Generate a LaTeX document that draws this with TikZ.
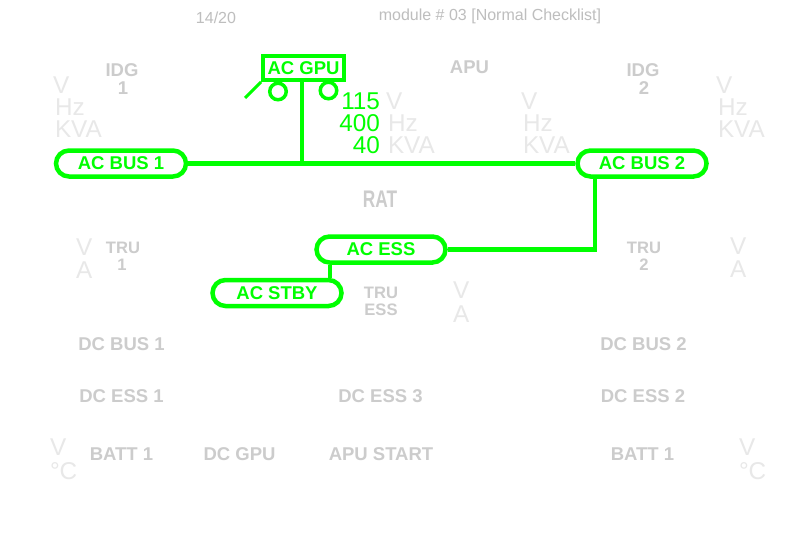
\documentclass[tikz,border=0pt]{standalone}
\usepackage{fontspec}
\setmainfont{Liberation Sans}
\definecolor{busgreen}{RGB}{0,255,0}
\definecolor{offgray}{RGB}{204,204,204}
\definecolor{unitgray}{RGB}{232,232,232}
\definecolor{headgray}{RGB}{190,190,190}
\tikzset{
  txt/.style={inner sep=0pt,outer sep=0pt,align=center},
  bigoff/.style={txt,text=offgray,font=\bfseries\fontsize{18.5}{18.5}\selectfont},
  smalloff/.style={txt,text=offgray,font=\bfseries\fontsize{16.6}{16.6}\selectfont},
  unit/.style={txt,text=unitgray,font=\fontsize{24.3}{24.3}\selectfont,anchor=west},
  head/.style={txt,text=headgray,font=\fontsize{16}{16}\selectfont},
  value/.style={txt,text=busgreen,font=\fontsize{24.3}{24.3}\selectfont,anchor=east},
  buspill/.style={draw=busgreen,line width=4.5pt,rounded rectangle,minimum height=26pt,inner sep=0pt,text=busgreen,font=\bfseries\fontsize{18.5}{18.5}\selectfont},
  wire/.style={draw=busgreen,line width=4.5pt},
  lamp/.style={draw=busgreen,line width=3.5pt,circle,minimum size=16.5pt,inner sep=0pt},
}
\usetikzlibrary{shapes.misc}
\begin{document}
\begin{tikzpicture}[x=1pt,y=-1pt]
\useasboundingbox (0,0) rectangle (799,538);
\fill[white] (0,0) rectangle (799,538);
% header
\node[head] (page) at (216,18) {14/20};
\node[head] (module) at (490,16) {module \# 03 [Normal Checklist]};
% buses
\node[buspill,minimum width=130pt] (acbus1) at (121,163.5) {AC BUS 1};
\node[buspill,minimum width=129pt] (acbus2) at (642,163.5) {AC BUS 2};
\node[buspill,minimum width=129pt] (acess) at (381,249.5) {AC ESS};
\node[buspill,minimum width=129pt] (acstby) at (277,293) {AC STBY};
\node[draw=busgreen,line width=4pt,minimum width=81pt,minimum height=24pt,inner sep=0pt,text=busgreen,font=\bfseries\fontsize{18.5}{18.5}\selectfont] (acgpu) at (303.5,68) {AC GPU};
% connectors
\coordinate (tap) at (302,163.5);
\coordinate (corner) at (595,249.5);
\coordinate (swfree) at (245,98);
\draw[wire] (acbus1.east) -- (acbus2.west);
\draw[wire] (acgpu.south -| tap) -- (tap);
\draw[wire] (acbus2.south -| corner) -- (corner) -- (acess.east);
\draw[wire] (acess.south -| 330,0) -- (acstby.north -| 330,0);
\draw[draw=busgreen,line width=3pt] (acgpu.south west) -- (swfree);
\node[lamp] (cleft) at (278,91.5) {};
\node[lamp] (cright) at (328.5,90.5) {};
% GPU values
\node[value] (v115) at (380,101) {115};
\node[value] (v400) at (380,123) {400};
\node[value] (v40) at (380,145) {40};
\node[unit] (uv) at (386,101) {V};
\node[unit] (uhz) at (388,123) {Hz};
\node[unit] (ukva) at (388,145) {KVA};
% IDG / APU
\node[bigoff] (idg1) at (122,70) {IDG};
\node[bigoff] (idg1n) at (123,88) {1};
\node[bigoff] (apu) at (469.5,67) {APU};
\node[bigoff] (idg2) at (643,70) {IDG};
\node[bigoff] (idg2n) at (644,88) {2};
\node[unit] (l1) at (53,85) {V};
\node[unit] (l2) at (55,107) {Hz};
\node[unit] (l3) at (55,129) {KVA};
\node[unit] (m1) at (521,101) {V};
\node[unit] (m2) at (523,123) {Hz};
\node[unit] (m3) at (523,145) {KVA};
\node[unit] (r1) at (716,85) {V};
\node[unit] (r2) at (718,107) {Hz};
\node[unit] (r3) at (718,129) {KVA};
\node[txt,text=offgray,font=\bfseries\fontsize{24}{24}\selectfont,xscale=.72] (rat) at (380,199) {RAT};
% TRU
\node[smalloff] (tru1) at (123,248) {TRU};
\node[smalloff] (tru1n) at (122,265) {1};
\node[smalloff] (tru2) at (644,248) {TRU};
\node[smalloff] (tru2n) at (644,265) {2};
\node[smalloff] (truess1) at (381,293) {TRU};
\node[smalloff] (truess2) at (381,310) {ESS};
\node[unit] (a1) at (76,247) {V};
\node[unit] (a2) at (76,270) {A};
\node[unit] (b1) at (730,246) {V};
\node[unit] (b2) at (730,269) {A};
\node[unit] (c1) at (453,290) {V};
\node[unit] (c2) at (453,314) {A};
% DC
\node[bigoff] (dcbus1) at (121.5,344) {DC BUS 1};
\node[bigoff] (dcbus2) at (643.5,344) {DC BUS 2};
\node[bigoff] (dcess1) at (121.5,396) {DC ESS 1};
\node[bigoff] (dcess3) at (380.5,396) {DC ESS 3};
\node[bigoff] (dcess2) at (643,396) {DC ESS 2};
\node[bigoff] (batt1) at (121.5,454) {BATT 1};
\node[bigoff] (dcgpu) at (239.5,454) {DC GPU};
\node[bigoff] (apustart) at (381,454) {APU START};
\node[bigoff] (batt2) at (642.5,454) {BATT 1};
\node[unit] (d1) at (50,447) {V};
\node[unit] (d2) at (50,471) {°C};
\node[unit] (e1) at (739,447) {V};
\node[unit] (e2) at (739,471) {°C};
\end{tikzpicture}
\end{document}
